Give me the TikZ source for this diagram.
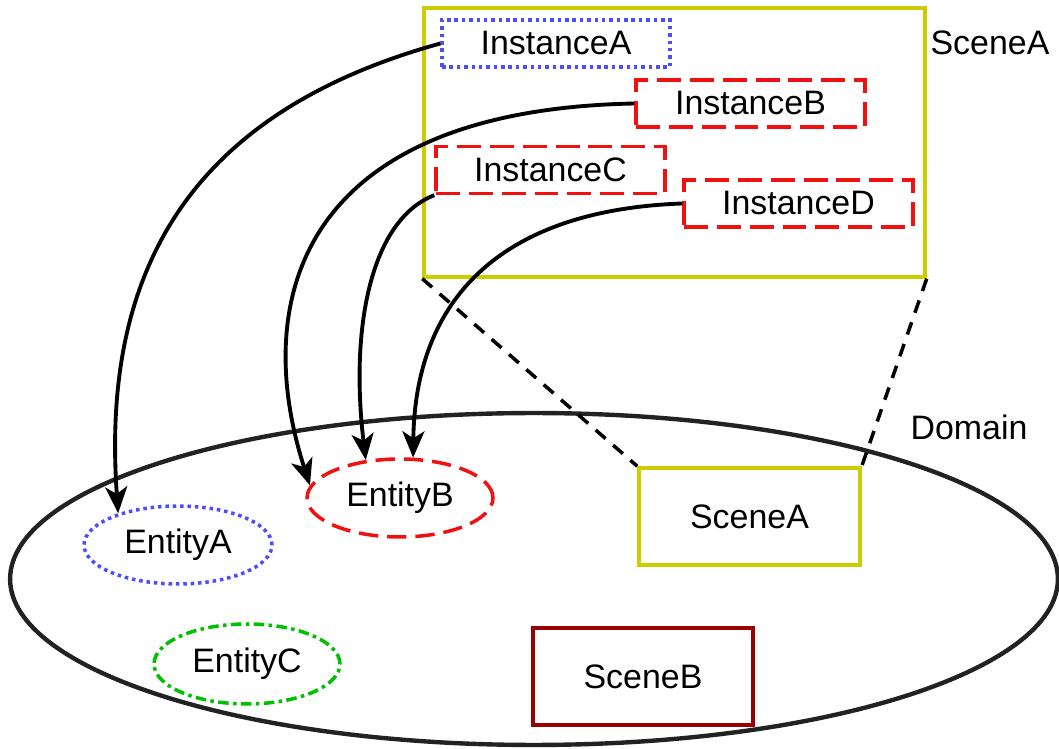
\documentclass[tikz,border=0pt]{standalone}
\usepackage{fontspec}
\setmainfont{Liberation Sans}
\usetikzlibrary{shapes,arrows.meta}
\definecolor{olive1}{HTML}{CCCC00}
\definecolor{blue1}{HTML}{4D4DFF}
\definecolor{red1}{HTML}{F01010}
\definecolor{green1}{HTML}{00C000}
\definecolor{darkred1}{HTML}{990000}
\definecolor{gray1}{HTML}{222222}
\tikzstyle{box1}=[rectangle, draw=blue1, line width=2pt, dash pattern=on 2pt off 2.2pt,
minimum width=4.56cm, minimum height=0.94cm, inner sep=0pt]
\tikzstyle{box2}=[rectangle, draw=red1, line width=2pt, dash pattern=on 13.6pt off 5.1pt,
minimum width=4.58cm, minimum height=0.94cm, inner sep=0pt]
\tikzstyle{ell1}=[ellipse, draw=blue1, line width=2pt, dash pattern=on 2pt off 2.2pt,
minimum width=3.76cm, minimum height=1.56cm, inner sep=0pt]
\tikzstyle{ell2}=[ellipse, draw=red1, line width=2pt, dash pattern=on 11pt off 5.1pt,
minimum width=3.72cm, minimum height=1.56cm, inner sep=0pt]
\tikzstyle{ell3}=[ellipse, draw=green1, line width=2pt, dash pattern=on 6pt off 2.5pt on 2pt off 2.5pt,
minimum width=3.72cm, minimum height=1.6cm, inner sep=0pt]
\tikzstyle{scene1}=[rectangle, draw=olive1, line width=2pt, minimum width=4.42cm, minimum height=1.94cm, inner sep=0pt]
\tikzstyle{scene2}=[rectangle, draw=darkred1, line width=2pt, minimum width=4.4cm, minimum height=1.94cm, inner sep=0pt]
\tikzstyle{link}=[draw=black, line width=2pt, dash pattern=on 7.4pt off 5.7pt]
\tikzstyle{arr}=[draw=black, line width=2.2pt, -{Stealth[length=15pt,width=12.5pt,inset=4pt]}]

\begin{document}
\begin{tikzpicture}[x=0.02cm, y=-0.02cm, font=\fontsize{19.3}{23}\selectfont]
\useasboundingbox (0,0) rectangle (1059,749);
\node [ellipse, draw=gray1, line width=2.5pt, minimum width=20.96cm, minimum height=6.64cm] (domain) at (534,579) {};
\node (domainlabel) at (969,427) {Domain};

\node [rectangle, draw=olive1, line width=2pt, minimum width=10.02cm, minimum height=5.38cm, inner sep=0pt] (sceneA) at (674.5,142.5) {};
\node (sceneAlabel) at (990,43) {SceneA};
\node [box1] (instA) at (556,43.5) {InstanceA};
\node [box2] (instB) at (750.5,103.5) {InstanceB};
\node [box2] (instC) at (550.5,170) {InstanceC};
\node [box2] (instD) at (798.5,203.5) {InstanceD};

\node [ell1] (entA) at (178,545) {EntityA};
\node [ell2] (entB) at (400,498) {EntityB};
\node [ell3] (entC) at (247,664) {EntityC};
\node [scene1] (sA) at (749.5,516.5) {SceneA};
\node [scene2] (sB) at (643,676.5) {SceneB};

\draw [link] (sceneA.south west) -- (sA.north west);
\draw [link] (sceneA.south east) -- (sA.north east);

\draw [arr] (instA.west) .. controls (200,110) and (100,260) .. (entA.152);
\draw [arr] (instB.west) .. controls (300,110) and (250,300) .. (entB.172);
\draw [arr] (instC.south west) .. controls (370,220) and (350,330) .. (entB.132);
\draw [arr] (instD.west) .. controls (500,210) and (415,300) .. (entB.72);

\end{tikzpicture}
\end{document}
